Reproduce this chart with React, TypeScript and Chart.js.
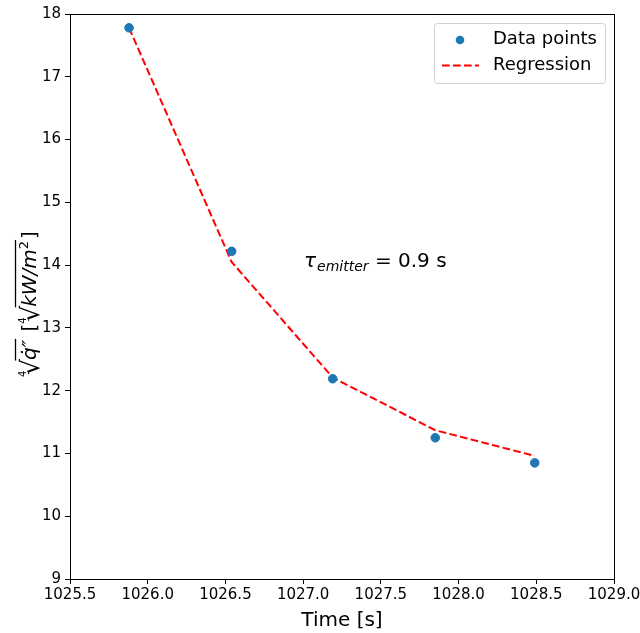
import React, { useEffect, useRef } from "react";
import { Chart, registerables } from "chart.js";

Chart.register(...registerables);

const timeValues = [1025.88, 1026.54, 1027.19, 1027.85, 1028.49];
const dataValues = [17.78, 14.22, 12.19, 11.25, 10.85];
const regressionValues = [17.78, 14.05, 12.21, 11.37, 10.96];
const xTicks = [1025.5, 1026.0, 1026.5, 1027.0, 1027.5, 1028.0, 1028.5, 1029.0];
const yTicks = [9, 10, 11, 12, 13, 14, 15, 16, 17, 18];
const legendLabels = ["Data points", "Regression"];
const annotationValue = "0.9 s";

const FONT = "'DejaVu Sans', sans-serif";
const BLUE = "#1f77b4";

const framePlugin = {
  id: "frame",
  afterDatasetsDraw(chart: any) {
    const { ctx, chartArea: a } = chart;
    ctx.save();
    ctx.strokeStyle = "#000";
    ctx.lineWidth = 1;
    ctx.strokeRect(Math.round(a.left) + 0.5, Math.round(a.top) + 0.5, Math.round(a.right - a.left), Math.round(a.bottom - a.top));
    ctx.restore();
  },
  afterDraw(chart: any) {
    const { ctx } = chart;
    // legend
    ctx.save();
    const bx = 434, by = 23, bw = 171, bh = 60;
    ctx.fillStyle = "rgba(255,255,255,0.8)";
    ctx.strokeStyle = "#d0d0d0";
    ctx.lineWidth = 1;
    ctx.beginPath();
    (ctx as any).roundRect(bx + 0.5, by + 0.5, bw, bh, 3);
    ctx.fill();
    ctx.stroke();
    ctx.fillStyle = BLUE;
    ctx.beginPath();
    ctx.arc(460, 40, 4.3, 0, Math.PI * 2);
    ctx.fill();
    ctx.strokeStyle = "red";
    ctx.lineWidth = 2;
    ctx.setLineDash([7.7, 3.3]);
    ctx.beginPath();
    ctx.moveTo(442, 65.5);
    ctx.lineTo(479, 65.5);
    ctx.stroke();
    ctx.setLineDash([]);
    ctx.fillStyle = "#000";
    ctx.font = `18px ${FONT}`;
    ctx.textBaseline = "middle";
    ctx.fillText(legendLabels[0], 493, 39);
    ctx.fillText(legendLabels[1], 493, 65);
    ctx.restore();

    // annotation
    ctx.save();
    ctx.fillStyle = "#000";
    ctx.textBaseline = "alphabetic";
    let x = 304;
    const base = 267;
    ctx.font = `italic 20px ${FONT}`;
    ctx.fillText("τ", x, base);
    x += ctx.measureText("τ").width + 1;
    ctx.font = `italic 14px ${FONT}`;
    ctx.fillText("emitter", x, base + 4);
    x += ctx.measureText("emitter").width;
    ctx.font = `20px ${FONT}`;
    ctx.fillText(" = " + annotationValue, x, base);
    ctx.restore();

    // y axis title
    ctx.save();
    ctx.translate(0, 302);
    ctx.rotate(-Math.PI / 2);
    ctx.fillStyle = "#000";
    ctx.strokeStyle = "#000";
    ctx.textBaseline = "alphabetic";
    const yb = 36;
    let p = -75;
    const drawRadical = (parts: Array<[string, string, number]>) => {
      ctx.font = `10px ${FONT}`;
      ctx.fillText("4", p, yb - 10);
      p += 2;
      ctx.font = `25px ${FONT}`;
      ctx.fillText("√", p, yb + 3);
      const rw = ctx.measureText("√").width;
      const start = p + rw - 1.5;
      p += rw - 1;
      for (const [t, f, dy] of parts) {
        ctx.font = f;
        ctx.fillText(t, p, yb + dy);
        p += ctx.measureText(t).width;
      }
      ctx.lineWidth = 1.3;
      ctx.beginPath();
      ctx.moveTo(start, yb - 20.5);
      ctx.lineTo(p + 1, yb - 20.5);
      ctx.stroke();
      p += 2;
    };
    drawRadical([["q\u0307\u2033", `italic 20px ${FONT}`, 0]]);
    ctx.font = `20px ${FONT}`;
    ctx.fillText(" [", p, yb);
    p += ctx.measureText(" [").width;
    drawRadical([
      ["kW/m", `italic 20px ${FONT}`, 0],
      ["2", `13px ${FONT}`, -8],
    ]);
    ctx.font = `20px ${FONT}`;
    ctx.fillText("]", p, yb);
    ctx.restore();
  },
};

export default function App() {
  const ref = useRef<HTMLCanvasElement>(null);
  useEffect(() => {
    document.body.style.margin = "0";
    const chart = new Chart(ref.current!, {
      type: "scatter",
      data: {
        datasets: [
          {
            label: legendLabels[0],
            data: timeValues.map((t, i) => ({ x: t, y: dataValues[i] })),
            backgroundColor: BLUE,
            borderColor: BLUE,
            pointRadius: 4.3,
            order: 0,
          },
          {
            label: legendLabels[1],
            type: "line",
            data: timeValues.map((t, i) => ({ x: t, y: regressionValues[i] })),
            borderColor: "red",
            borderWidth: 2,
            borderDash: [7.7, 3.3],
            pointRadius: 0,
            fill: false,
            order: 1,
          } as any,
        ],
      },
      options: {
        animation: false,
        responsive: false,
        layout: { padding: { top: 14, right: 26, left: 0, bottom: 0 } },
        plugins: { legend: { display: false }, tooltip: { enabled: false } },
        scales: {
          x: {
            type: "linear",
            min: 1025.5,
            max: 1029.0,
            afterBuildTicks: (s: any) => {
              s.ticks = xTicks.map((v) => ({ value: v }));
            },
            afterFit: (s: any) => {
              s.height = 54;
              s.paddingLeft = 0;
              s.paddingRight = 0;
            },
            ticks: {
              font: { family: FONT, size: 15 },
              color: "#000",
              padding: 2,
              maxRotation: 0,
              callback: (v: any) => Number(v).toFixed(1),
            },
            grid: { drawOnChartArea: false, drawTicks: true, tickLength: 5, color: "#000" },
            border: { color: "#000" },
            title: {
              display: true,
              text: "Time [s]",
              font: { family: FONT, size: 20 },
              color: "#000",
              padding: { top: 0, bottom: 0 },
            },
          },
          y: {
            type: "linear",
            min: 9,
            max: 18,
            afterBuildTicks: (s: any) => {
              s.ticks = yTicks.map((v) => ({ value: v }));
            },
            afterFit: (s: any) => {
              s.width = 70;
              s.paddingTop = 0;
              s.paddingBottom = 0;
            },
            ticks: {
              font: { family: FONT, size: 15 },
              color: "#000",
              padding: 4,
              callback: (v: any) => String(v),
            },
            grid: { drawOnChartArea: false, drawTicks: true, tickLength: 5, color: "#000" },
            border: { color: "#000" },
          },
        },
      },
      plugins: [framePlugin],
    });
    return () => chart.destroy();
  }, []);
  return <canvas ref={ref} width={640} height={633} style={{ display: "block" }} />;
}
